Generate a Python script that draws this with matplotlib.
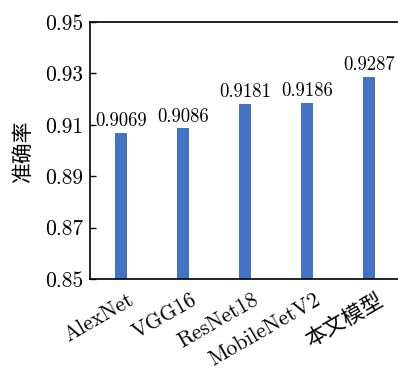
import matplotlib
matplotlib.use("Agg")
import matplotlib.pyplot as plt
import matplotlib.transforms as mtransforms

models = ["AlexNet", "VGG16", "ResNet18", "MobileNetV2", "本文模型"]
accuracy = [0.9069, 0.9086, 0.9181, 0.9186, 0.9287]
yticks = [0.85, 0.87, 0.89, 0.91, 0.93, 0.95]
ylabel = "准确率"

plt.rcParams['font.family'] = ['cmr10', 'Noto Sans CJK SC']
plt.rcParams['axes.formatter.use_mathtext'] = True

fig = plt.figure(figsize=(3.98, 3.68), dpi=100)
ax = fig.add_axes([90/398, 1 - 279/368, 310/398, (279 - 22)/368])

x = list(range(len(models)))
bars = ax.bar(x, accuracy, width=0.2, color="#4472C4", zorder=2)
for xi, v in zip(x, accuracy):
    ax.annotate(f"{v:.4f}", (xi, v), xytext=(0, 2), textcoords="offset points",
                ha="center", va="bottom", fontsize=13.5, family=['cmr10'])

ax.set_xlim(-0.5, 4.5)
ax.set_ylim(0.85, 0.95)
ax.set_yticks(yticks)
ax.set_yticklabels([f"{t:.2f}" for t in yticks], fontsize=15.5)
ax.set_xticks(x)
ax.set_xticklabels(models, rotation=30, ha="right", rotation_mode="anchor",
                   fontsize=15.5, family=['cmr10', 'Noto Sans CJK SC'])
ax.tick_params(axis="both", direction="in", length=4, width=1)
ax.tick_params(axis="x", pad=8)
ax.tick_params(axis="y", pad=5)
ax.spines['right'].set_visible(False)
for s in ['left', 'top', 'bottom']:
    ax.spines[s].set_linewidth(1.2)
ax.set_ylabel(ylabel, fontsize=15, family=['Noto Sans CJK SC'], labelpad=8)

shift = mtransforms.ScaledTranslation(7/100, 0, fig.dpi_scale_trans)
for tick in ax.xaxis.get_major_ticks():
    tick.label1.set_transform(tick.label1.get_transform() + shift)

fig.savefig("out.png", dpi=100)
